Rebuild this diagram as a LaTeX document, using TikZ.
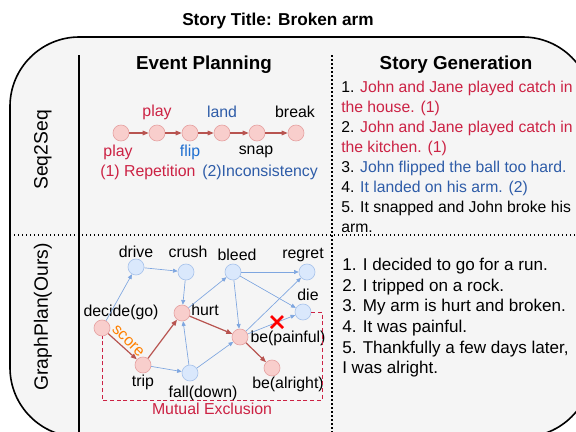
\documentclass[tikz,border=0pt]{standalone}
\usepackage{fontspec}
\setmainfont{Liberation Sans}
\usetikzlibrary{arrows.meta,positioning}
\definecolor{boxgray}{HTML}{F5F5F5}
\definecolor{pinkfill}{HTML}{F8CECC}
\definecolor{pinkline}{HTML}{E6A3A3}
\definecolor{bluefill}{HTML}{DAE8FC}
\definecolor{blueline}{HTML}{A9C4EB}
\definecolor{edgeblue}{HTML}{7EA6E0}
\definecolor{edgered}{HTML}{B85450}
\definecolor{txtred}{HTML}{CC2244}
\definecolor{txtblue}{HTML}{2E5CA8}
\definecolor{flipblue}{HTML}{1F6FD0}
\definecolor{txtorange}{HTML}{FF8000}
\newcommand{\titlefont}{\fontsize{12.9}{15}\selectfont\bfseries}
\newcommand{\hdfont}{\fontsize{14.1}{17}\selectfont\bfseries}
\newcommand{\sidefont}{\fontsize{14.5}{17}\selectfont}
\newcommand{\lblfont}{\fontsize{11.9}{14}\selectfont}
\newcommand{\storyfont}{\fontsize{11.8}{15}\selectfont}
\newcommand{\planfont}{\fontsize{12.8}{15.45}\selectfont}

\begin{document}
\begin{tikzpicture}[x=0.75pt, y=-0.75pt,
    ev/.style={circle, minimum size=12pt, inner sep=0pt, line width=0.5pt},
    redev/.style={ev, draw=pinkline, fill=pinkfill},
    blueev/.style={ev, draw=blueline, fill=bluefill},
    txt/.style={inner sep=0pt, font=\lblfont},
    blueedge/.style={-{Triangle[length=3.5pt,width=3pt]}, draw=edgeblue, line width=0.5pt},
    rededge/.style={-{Triangle[length=4.5pt,width=3.5pt]}, draw=edgered, line width=0.9pt},
    sep/.style={line width=1pt, dash pattern=on 1pt off 2pt}
]
\useasboundingbox (0,0) rectangle (576,432);
\clip (0,0) rectangle (576,432);

% Frame
\node[inner sep=0pt, font=\titlefont] (title) at (278,21) {Story Title: Broken arm};
\draw[line width=1.2pt, fill=boxgray, rounded corners=52pt] (10,37) rectangle (592,437);
\draw[line width=1.1pt] (79,55) -- (79,437);
\draw[sep, dash pattern=on 1.5pt off 1.5pt] (332,55) -- (332,437);
\draw[sep] (10,235) -- (592,235);

% Headers
\node[inner sep=0pt, font=\hdfont] (hplan) at (204,65) {Event Planning};
\node[inner sep=0pt, font=\hdfont] (hstory) at (456,65) {Story Generation};
\node[inner sep=0pt, font=\sidefont, rotate=90] (hseq) at (43,150) {Seq2Seq};
\node[inner sep=0pt, font=\sidefont, rotate=90] (hgraph) at (43,317) {GraphPlan(Ours)};

% Seq2Seq chain
\foreach \i/\x in {1/121,2/157,3/190,4/222,5/257,6/296}
    \node[redev] (s\i) at (\x,133) {};
\foreach \i/\j in {1/2,2/3,3/4,4/5,5/6}
    \draw[rededge, line width=0.8pt] (s\i) -- (s\j);
\node[txt, text=txtred] (lplaya) at (157,112) {play};
\node[txt, text=txtblue] (lland) at (222,112) {land};
\node[txt] (lbreak) at (295,112) {break};
\node[txt, text=txtred] (lplayb) at (118,152) {play};
\node[txt, text=flipblue] (lflip) at (190,152) {flip};
\node[txt] (lsnap) at (256,152) {snap};
\node[txt, text=txtred, anchor=west] (lrep) at (100,172) {(1) Repetition};
\node[txt, text=txtblue, anchor=west] (lincon) at (202,172) {(2)Inconsistency};

% GraphPlan events
\node[redev] (decide) at (102,328) {};
\node[blueev] (drive) at (136,267) {};
\node[blueev] (crush) at (186,272) {};
\node[blueev] (bleed) at (233,272) {};
\node[blueev] (regret) at (307,272) {};
\node[blueev] (die) at (303,312) {};
\node[redev] (hurt) at (182,313) {};
\node[redev] (painful) at (240,337) {};
\node[redev] (alright) at (272,368) {};
\node[redev] (trip) at (143,365) {};
\node[blueev] (fall) at (190,373) {};

\node[txt] (ldecide) at (121,312) {decide(go)};
\node[txt] (ldrive) at (136,252) {drive};
\node[txt] (lcrush) at (188,252) {crush};
\node[txt] (lbleed) at (237,255) {bleed};
\node[txt] (lregret) at (303,255) {regret};
\node[txt] (ldie) at (308,295) {die};
\node[txt] (lhurt) at (205,310) {hurt};
\node[txt] (lpainful) at (288,338) {be(painful)};
\node[txt] (lalright) at (288,384) {be(alright)};
\node[txt] (ltrip) at (143,382) {trip};
\node[txt] (lfall) at (203,393) {fall(down)};

% Edges
\draw[blueedge] (decide) -- (drive);
\draw[blueedge] (drive) -- (crush);
\draw[blueedge] (crush) -- (hurt);
\draw[blueedge] (trip) -- (fall);
\draw[blueedge] (fall) -- (hurt);
\draw[blueedge] (fall) -- (painful);
\draw[blueedge] (hurt) -- (bleed);
\draw[blueedge] (bleed) -- (regret);
\draw[blueedge] (bleed) -- (die);
\draw[blueedge] (bleed) -- (painful);
\draw[blueedge] (painful) -- (regret);
\draw[blueedge] (painful) -- (die);
\draw[rededge] (decide) -- (trip);
\draw[rededge] (trip) -- (hurt);
\draw[rededge] (hurt) -- (painful);
\draw[rededge] (painful) -- (alright);

\node[txt, text=txtorange, rotate=-45] (lscore) at (128,341) {score};
\draw[red, line width=2pt] (271,316) -- (283,328) (271,328) -- (283,316);

% Mutual exclusion
\draw[txtred, line width=0.6pt, dash pattern=on 3pt off 2pt]
    (die.east) -- (322,312) -- (322,400) -- (102,400) -- (decide.south);
\node[txt, text=txtred] (lmutex) at (212,409) {Mutual Exclusion};

% Stories
\node[anchor=north west, inner sep=0pt, align=left, font=\storyfont] (story1) at (341,81) {%
1. \textcolor{txtred}{John and Jane played catch in}\\
\textcolor{txtred}{the house. (1)}\\
2. \textcolor{txtred}{John and Jane played catch in}\\
\textcolor{txtred}{the kitchen. (1)}\\
3. \textcolor{txtblue}{John flipped the ball too hard.}\\
4. \textcolor{txtblue}{It landed on his arm. (2)}\\
5. It snapped and John broke his\\
arm.};
\node[anchor=north west, inner sep=0pt, align=left, font=\planfont] (story2) at (342,258) {%
1. I decided to go for a run.\\
2. I tripped on a rock.\\
3. My arm is hurt and broken.\\
4. It was painful.\\
5. Thankfully a few days later,\\
I was alright.};
\end{tikzpicture}
\end{document}
